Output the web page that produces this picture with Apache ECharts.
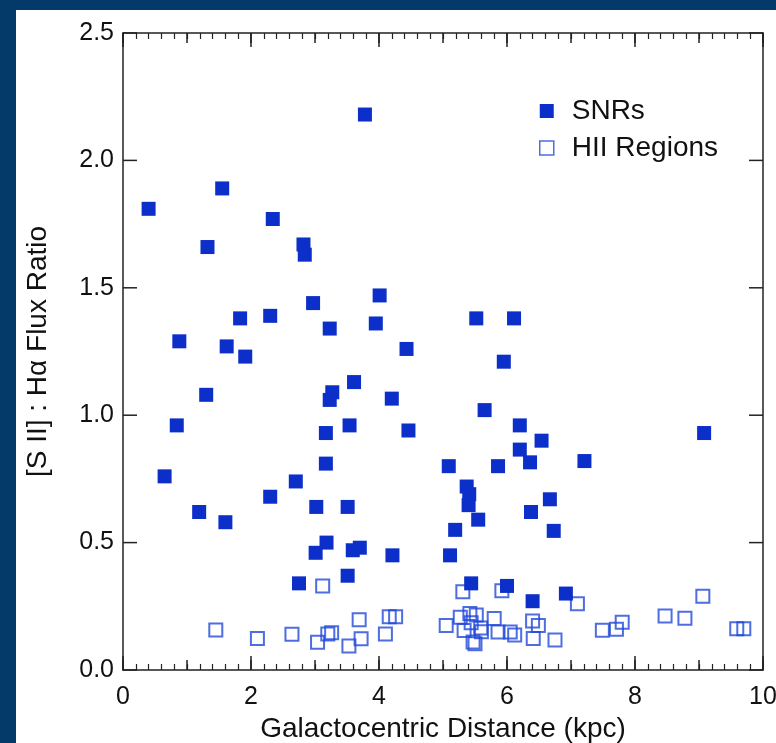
<!DOCTYPE html>
<html>
<head>
<meta charset="utf-8">
<script src="https://cdn.jsdelivr.net/npm/echarts@6/dist/echarts.min.js"></script>
<style>
  html,body{margin:0;padding:0;background:#033a6a;width:776px;height:743px;overflow:hidden;}
  #chart{position:absolute;left:16px;top:10px;width:760px;height:733px;background:#fff;}
</style>
</head>
<body>
<div id="chart"></div>
<script>
// SNRs : [distance kpc, [S II]/Ha]
let snrs = [
  [0.40,1.81],[1.55,1.89],[2.34,1.77],[1.32,1.66],[2.82,1.67],[2.84,1.63],[3.78,2.18],
  [4.01,1.47],[2.97,1.44],[2.30,1.39],[1.83,1.38],[3.23,1.34],[3.95,1.36],[4.43,1.26],
  [0.88,1.29],[1.62,1.27],[1.91,1.23],[5.52,1.38],[6.11,1.38],[5.95,1.21],
  [1.30,1.08],[3.61,1.13],[3.27,1.09],[3.23,1.06],[4.20,1.065],[0.84,0.96],[3.54,0.96],
  [3.17,0.93],[4.46,0.94],[3.17,0.81],[0.65,0.76],[2.70,0.74],[2.30,0.68],[3.02,0.64],
  [3.51,0.64],[1.19,0.62],[1.60,0.58],[3.18,0.50],[3.01,0.46],[3.59,0.47],[3.70,0.48],
  [4.21,0.45],[3.51,0.37],[2.75,0.34],
  [5.65,1.02],[6.20,0.96],[6.54,0.90],[6.20,0.865],[6.36,0.815],[5.09,0.80],[5.86,0.80],
  [7.21,0.82],[9.08,0.93],[5.37,0.72],[5.41,0.69],[5.40,0.647],[6.67,0.67],[6.375,0.62],
  [5.55,0.59],[5.19,0.55],[6.73,0.546],[5.11,0.45],[5.44,0.34],[6.00,0.33],[6.40,0.27],
  [6.92,0.30]
];
// HII regions
let hii = [
  [1.45,0.157],[2.10,0.124],[2.64,0.14],[3.04,0.109],[3.12,0.33],[3.20,0.141],[3.26,0.146],
  [3.53,0.094],[3.69,0.197],[3.72,0.123],[4.10,0.141],[4.16,0.209],[4.26,0.209],
  [5.05,0.175],[5.27,0.207],[5.31,0.307],[5.33,0.155],[5.42,0.222],[5.44,0.185],[5.47,0.11],
  [5.50,0.103],[5.52,0.216],[5.59,0.165],[5.60,0.15],[5.80,0.202],[5.86,0.149],[5.92,0.311],
  [6.05,0.149],[6.12,0.137],[6.40,0.192],[6.41,0.124],[6.49,0.175],[6.75,0.118],[7.10,0.26],
  [7.49,0.156],[7.71,0.16],[7.80,0.187],[8.47,0.212],[8.78,0.203],[9.06,0.289],[9.59,0.162],
  [9.70,0.162]
];
let xTicks = [0,2,4,6,8,10];
let yTicks = [0,0.5,1.0,1.5,2.0,2.5];

let xMin = xTicks[0], xMax = xTicks[xTicks.length-1];
let font = "'Liberation Sans', Arial, Helvetica, sans-serif";
let blue = '#0b2fc8';
let line = {show:true,onZero:false,lineStyle:{color:'#222',width:1.5}};
let noLine = {show:false,onZero:false};
let tickStyle = {color:'#222',width:1.5};

// one x axis builder, bottom/top, major or half ticks
let xAx = (pos, step, len, labels, minor) => ({
  type:'value', position:pos, min:xMin, max:xMax, interval:step,
  axisLine: minor ? line : noLine,
  axisTick:{show:true,inside:true,length:len,lineStyle:tickStyle},
  minorTick:{show:minor,splitNumber:10,length:6,lineStyle:{color:'#222',width:1.2}},
  axisLabel:{show:labels,fontSize:25,color:'#111',fontFamily:font,margin:15},
  splitLine:{show:false},
  name: labels ? 'Galactocentric Distance (kpc)' : '',
  nameLocation:'middle', nameGap:44,
  nameTextStyle:{fontSize:28,color:'#111',fontFamily:font}
});
// frame y axes (line + labels); their ticks come from the custom series below
let yAx = (pos, labels) => ({
  type:'value', position:pos, min:yTicks[0], max:yTicks[yTicks.length-1], interval:0.5,
  axisLine:line, axisTick:{show:false},
  axisLabel:{show:labels,fontSize:25,color:'#111',fontFamily:font,margin:9,formatter:(v)=>v.toFixed(1)},
  splitLine:{show:false},
  name: labels ? '[S II] : H\u03b1 Flux Ratio' : '',
  nameLocation:'middle', nameGap:71, nameRotate:90,
  nameTextStyle:{fontSize:28,color:'#111',fontFamily:font}
});

// inward y ticks on both frame sides
let yTickRender = (params, api) => {
  let v = api.value(1);
  let l = api.coord([xMin, v]), r = api.coord([xMax, v]);
  let st = {stroke:'#222', lineWidth:1.5};
  return {type:'group', children:[
    {type:'line', shape:{x1:l[0], y1:l[1], x2:l[0]+14, y2:l[1]}, style:st},
    {type:'line', shape:{x1:r[0], y1:r[1], x2:r[0]-14, y2:r[1]}, style:st}
  ]};
};

let myChart = echarts.init(document.getElementById('chart'));
myChart.setOption({
  animation:false,
  grid:{left:107,right:13,top:23,bottom:73,containLabel:false,outerBoundsMode:'none'},
  legend:{
    orient:'vertical', left:518, top:82, itemGap:9,
    itemWidth:14, itemHeight:14,
    textStyle:{fontSize:28,color:'#111',fontFamily:font,padding:[0,0,0,13]},
    data:[
      {name:'SNRs',icon:'rect'},
      {name:'HII Regions',icon:'rect',itemStyle:{color:'#fff',borderColor:'#2049d8',borderWidth:1.5}}
    ]
  },
  xAxis:[
    xAx('bottom',2,14,true,true),
    xAx('bottom',1,10,false,false),
    xAx('top',2,14,false,true),
    xAx('top',1,10,false,false)
  ],
  yAxis:[
    yAx('left',true),
    yAx('right',false)
  ],
  series:[
    {name:'yticks',type:'custom',silent:true,clip:false,z:1,
     data:yTicks.map((v)=>[xMin,v]),encode:{x:0,y:1},renderItem:yTickRender},
    {name:'HII Regions',type:'scatter',data:hii,symbol:'rect',symbolSize:13,
     itemStyle:{color:'rgba(255,255,255,0)',borderColor:'#2049d8',borderWidth:2}},
    {name:'SNRs',type:'scatter',data:snrs,symbol:'rect',symbolSize:14,
     itemStyle:{color:blue,opacity:1}}
  ]
});
</script>
</body>
</html>
